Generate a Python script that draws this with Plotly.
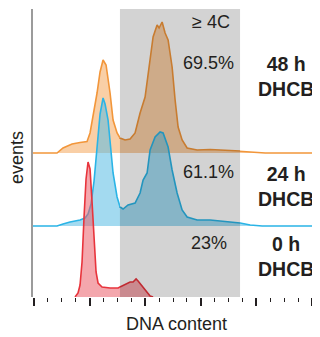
import numpy as np
import plotly.graph_objects as go

# ---------------- data (DNA content channel vs. events) ----------------
dna_48h = [-1, 20.7, 26.1, 34.2, 41.4, 47.7, 50.4, 53.1, 56.7, 59.4, 62.1, 64.8, 68.4, 71.1,
           74.7, 77.4, 81.9, 86.4, 90.9, 95.4, 99.9, 104.4, 107.1, 110.7, 112.5, 115.2, 117.9,
           120.6, 124.2, 126.9, 129.6, 133.2, 137.7, 146.7, 158.4, 167.4, 185.4, 198.9, 207.9, 257.4]
events_48h = [0, 0, 5, 9, 10.5, 11.5, 20, 37, 60, 81, 93, 88, 60, 33,
              20, 15, 13, 14, 20, 40, 56, 93, 116, 128, 125, 131, 120,
              113, 86, 53, 26, 13, 5, 3, 3.5, 3, 2, 0.5, 0, 0]

dna_24h = [-1, 20.7, 26.1, 32.4, 41.4, 45.9, 48.6, 51.3, 54.0, 56.7, 59.4, 62.1, 63.9, 66.6,
           68.4, 71.1, 74.7, 77.4, 80.1, 84.6, 90.9, 95.4, 98.1, 101.7, 104.4, 108.9, 113.4,
           116.1, 120.6, 124.2, 128.7, 133.2, 137.7, 146.7, 158.4, 173.7, 185.4, 194.4, 205.2, 257.4]
events_24h = [0, 0, 2, 4, 6, 8, 12, 22, 45, 76, 112, 128, 122, 106,
              83, 53, 29, 19, 17, 21, 23, 33, 46, 53, 76, 89, 94,
              93, 79, 56, 33, 16, 9, 6, 6, 4, 3, 1, 0, 0]

dna_0h = [36.9, 39.6, 41.4, 43.2, 45.0, 46.8, 48.6, 50.4, 52.2, 54.0, 55.8, 57.6, 61.2,
          68.4, 75.6, 79.2, 82.8, 86.4, 89.1, 91.8, 93.6, 97.2, 100.8, 104.4, 107.1]
events_0h = [0, 4, 12, 35, 80, 118, 135, 128, 95, 55, 25, 14, 10,
             9, 9, 11, 13, 15, 15, 18, 16, 11, 5, 1, 0]

gate_4c = [77.3, 185.3]                     # ">= 4C" gate on DNA content
gate_pct = ["69.5%", "61.1%", "23%"]
sample_labels = ["48 h<br>DHCB", "24 h<br>DHCB", "0 h<br>DHCB"]

# ---------------- styling ----------------
FONT = "Liberation Sans, Arial, sans-serif"
TXT = "#231f20"
GRAY = (211, 211, 211)
K = 211 / 255.0            # gray multiply factor
ALPHA = 0.55

samples = [
    dict(x=dna_48h, y=events_48h, base=144, line=(242, 150, 58), fill=(244, 168, 93)),
    dict(x=dna_24h, y=events_24h, base=71, line=(42, 180, 230), fill=(88, 188, 228)),
    dict(x=dna_0h, y=events_0h, base=0, line=(232, 52, 60), fill=(235, 95, 105)),
]


def rgb(c, k=1.0, a=None):
    r, g, b = (round(v * k, 1) for v in c)
    return f"rgba({r},{g},{b},{a})" if a is not None else f"rgb({r},{g},{b})"


def clip(xs, hs, lo, hi):
    xs = np.asarray(xs, float)
    hs = np.asarray(hs, float)
    lo = max(lo, xs.min())
    hi = min(hi, xs.max())
    m = (xs > lo) & (xs < hi)
    cx = [lo] + list(xs[m]) + [hi]
    ch = [float(np.interp(lo, xs, hs))] + list(hs[m]) + [float(np.interp(hi, xs, hs))]
    return cx, ch


def add_sample(fig, xs, hs, base, line_c, fill_c, k=1.0):
    xs = list(xs)
    ys = [base + h for h in hs]
    fig.add_trace(go.Scatter(
        x=xs + [xs[-1], xs[0]], y=ys + [base, base], mode="lines", fill="toself",
        fillcolor=rgb(fill_c, k, ALPHA), line=dict(width=0), hoverinfo="skip", showlegend=False))
    fig.add_trace(go.Scatter(
        x=xs, y=ys, mode="lines", line=dict(color=rgb(line_c, k), width=1.6),
        hoverinfo="skip", showlegend=False))


fig = go.Figure()
for s in samples:
    add_sample(fig, s["x"], s["y"], s["base"], s["line"], s["fill"])

# gate (gray band)
fig.add_trace(go.Scatter(
    x=[gate_4c[0], gate_4c[1], gate_4c[1], gate_4c[0]], y=[0, 0, 288, 288],
    mode="lines", fill="toself", fillcolor=rgb(GRAY), line=dict(width=0),
    hoverinfo="skip", showlegend=False))

# histograms seen through the gray band (multiplied by gray)
for s in samples:
    cx, ch = clip(s["x"], s["y"], gate_4c[0], gate_4c[1])
    add_sample(fig, cx, ch, s["base"], s["line"], s["fill"], k=K)

ann = []
ann.append(dict(x=159.3, y=275.5, text="≥ 4C", showarrow=False, xref="x", yref="y",
                xanchor="center", yanchor="middle",
                font=dict(family=FONT, size=18, color=TXT)))
pct_y = [234.5, 125.5, 54]
for t, yy in zip(gate_pct, pct_y):
    ann.append(dict(x=157.3, y=yy, text=t, showarrow=False, xref="x", yref="y",
                    xanchor="center", yanchor="middle",
                    font=dict(family=FONT, size=18, color=TXT)))
lab_y = [220.5, 111, 41]
for t, yy in zip(sample_labels, lab_y):
    ann.append(dict(x=226.3, y=yy, text="<b>" + t.replace("<br>", "</b><br><b>") + "</b>",
                    showarrow=False, xref="x", yref="y", align="center",
                    xanchor="center", yanchor="middle",
                    font=dict(family=FONT, size=19.5, color=TXT)))
ann.append(dict(x=(17 - 33) / 287, y=(297 - 158) / 288, xref="paper", yref="paper",
                text="events", textangle=-90, showarrow=False,
                xanchor="center", yanchor="middle",
                font=dict(family=FONT, size=18, color=TXT)))
ann.append(dict(x=(176.5 - 33) / 287, y=(297 - 323.5) / 288, xref="paper", yref="paper",
                text="DNA content", showarrow=False,
                xanchor="center", yanchor="middle",
                font=dict(family=FONT, size=18, color=TXT)))

# the page body has an 8 px margin, so the figure is 8 px smaller on each axis
fig.update_layout(
    width=312, height=329,
    margin=dict(l=25, r=0, t=1, b=40),
    paper_bgcolor="white", plot_bgcolor="white",
    showlegend=False,
    annotations=ann,
    xaxis=dict(range=[-0.9, 257.2], showgrid=False, zeroline=False, showline=False,
               showticklabels=False, ticks="outside", tick0=0, dtick=50, ticklen=8,
               tickwidth=2, tickcolor=TXT,
               minor=dict(ticks="outside", tick0=0, dtick=12.5, ticklen=4, tickwidth=1.3,
                          tickcolor=TXT, showgrid=False)),
    yaxis=dict(range=[0, 288], showgrid=False, zeroline=False, showline=True,
               linecolor="#9b9b9b", linewidth=1.5, showticklabels=False, ticks=""),
)

fig.write_html("out.html")
